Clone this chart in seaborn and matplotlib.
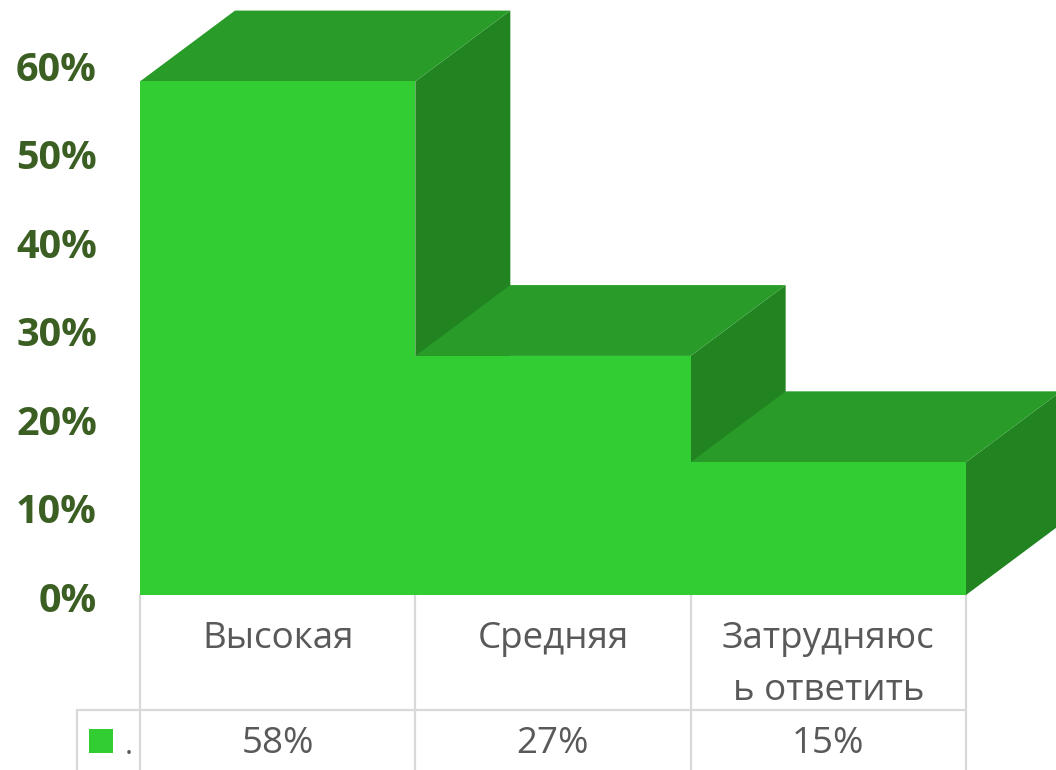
import matplotlib
matplotlib.use("Agg")
import matplotlib.pyplot as plt
import matplotlib.transforms as mtransforms
from matplotlib.patches import Polygon, Rectangle
from matplotlib.lines import Line2D
import seaborn as sns
import pandas as pd

# ---- data ----
categories = ["Высокая", "Средняя", "Затрудняюс\nь ответить"]
values = [58, 27, 15]
value_labels = ["58%", "27%", "15%"]
series_name = "."
yticks = [0, 10, 20, 30, 40, 50, 60]
ytick_labels = ["0%", "10%", "20%", "30%", "40%", "50%", "60%"]

# ---- style ----
FRONT = "#32CD32"
TOP = "#289B28"
SIDE = "#218421"
TICK_COLOR = "#3B5E22"
TEXT_COLOR = "#595959"
GRID = "#D9D9D9"

sns.set_style("white")
plt.rcParams["font.family"] = ["Open Sans", "DejaVu Sans"]

W, H = 1056, 770
fig = plt.figure(figsize=(W / 100, H / 100), dpi=100)
fx = lambda px: px / W
fy = lambda py: 1 - py / H

ax = fig.add_axes([fx(140), fy(595), fx(966) - fx(140), fy(46) - fy(595)])

df = pd.DataFrame({"cat": categories, "val": values})
sns.barplot(data=df, x="cat", y="val", width=1.0, color=FRONT, saturation=1,
            linewidth=0, ax=ax, zorder=3)

ax.set_xlim(-0.5, 2.5)
ax.set_ylim(0, 62)

# 3D depth offsets (in data units)
dx = 0.345
dy = 8.0
for p in ax.patches:
    x0 = p.get_x()
    w = p.get_width()
    h = p.get_height()
    x1 = x0 + w
    side = Polygon([(x1, 0), (x1 + dx, dy), (x1 + dx, h + dy), (x1, h)],
                   closed=True, facecolor=SIDE, edgecolor="none", zorder=1, clip_on=False)
    top = Polygon([(x0, h), (x0 + dx, h + dy), (x1 + dx, h + dy), (x1, h)],
                  closed=True, facecolor=TOP, edgecolor="none", zorder=2, clip_on=False)
    ax.add_patch(side)
    ax.add_patch(top)

# axes styling
for s in ax.spines.values():
    s.set_visible(False)
ax.set_xlabel("")
ax.set_ylabel("")
ax.set_xticks([])
ax.set_yticks(yticks)
ax.set_yticklabels(ytick_labels, fontsize=28.5, fontweight="bold", color=TICK_COLOR)
ax.tick_params(axis="y", length=0, pad=31)
offset = mtransforms.ScaledTranslation(0, -2 / 100, fig.dpi_scale_trans)
for lab in ax.get_yticklabels():
    lab.set_transform(lab.get_transform() + offset)
ax.grid(False)

# ---- data table below ----
blend = mtransforms.blended_transform_factory(ax.transData, fig.transFigure)
n = len(categories)
for b in [i - 0.5 for i in range(n + 1)]:
    fig.add_artist(Line2D([b, b], [fy(595), fy(775)], transform=blend,
                          color=GRID, lw=1.6, zorder=0))
# horizontal separator
fig.add_artist(Line2D([fx(77), ax.transAxes.transform((1, 0))[0] / W], [fy(710), fy(710)],
                      transform=fig.transFigure, color=GRID, lw=1.6))
fig.add_artist(Line2D([fx(77), fx(77)], [fy(710), fy(775)],
                      transform=fig.transFigure, color=GRID, lw=1.6))

for i, (c, v) in enumerate(zip(categories, value_labels)):
    for j, line in enumerate(c.split("\n")):
        fig.text(i, fy(648 + 52 * j), line, transform=blend, ha="center", va="baseline",
                 fontsize=26.5, color=TEXT_COLOR)
    fig.text(i, fy(753), v, transform=blend, ha="center", va="baseline",
             fontsize=26.5, color=TEXT_COLOR)

# legend key
fig.add_artist(Rectangle((fx(89), fy(753)), fx(24), 24 / H, transform=fig.transFigure,
                         facecolor=FRONT, edgecolor="none"))
fig.text(fx(125), fy(754), series_name, ha="left", va="baseline",
         fontsize=22, color=TEXT_COLOR)

fig.savefig("out.png", dpi=100)
